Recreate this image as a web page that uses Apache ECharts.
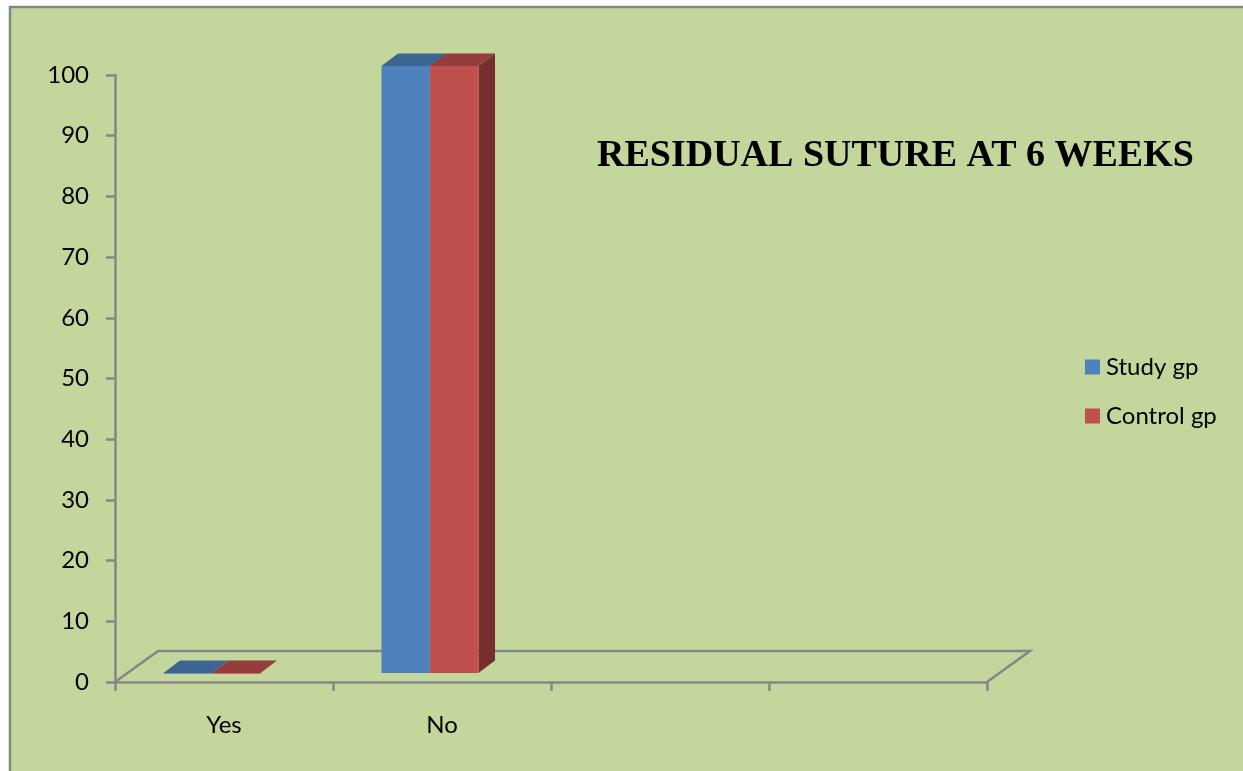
<!DOCTYPE html>
<html>
<head>
<meta charset="utf-8">
<script src="https://cdn.jsdelivr.net/npm/echarts@6/dist/echarts.min.js"></script>
<style>
  html, body { margin: 0; padding: 0; background: #ffffff; }
  #chart { width: 1243px; height: 771px; }
</style>
</head>
<body>
<div id="chart"></div>
<script>
// Categories along the floor (two empty slots keep the axis width)
const categories = ['Yes', 'No', '', ' '];
// Percentages per group
const studyGp = [0, 100];
const controlGp = [0, 100];
const seriesNames = ['Study gp', 'Control gp'];
const yTicks = { min: 0, max: 100, interval: 10 };

const FONT = 'Lato, "Open Sans", sans-serif';
const AXIS_GREY = '#868686';

// Depth vectors of the pseudo-3D look
const FLOOR_DX = 43, FLOOR_DY = -31;
const BAR_DX = 16.5, BAR_DY = -12.5;
const BAR_SHIFT_Y = -9;

// Face colours: front, top, side
const palettes = [
  { front: '#4f81bd', top: '#3d6592', side: '#34577f' },
  { front: '#c0504d', top: '#953d3a', side: '#772f2e' }
];

function barRenderer(slot, pal) {
  return function (params, api) {
    const ci = api.value(0);
    const v = api.value(1);
    const base = api.coord([ci, 0]);
    const top = api.coord([ci, v]);
    const band = api.size([1, 0])[0];
    const w = band * 0.2225;
    const pairCenter = base[0] - band * 0.055;
    const x0 = pairCenter + (slot - 1) * w;
    const yb = base[1] + BAR_SHIFT_Y;
    const yt = top[1] + BAR_SHIFT_Y;
    return {
      type: 'group',
      children: [
        {
          type: 'polygon',
          shape: { points: [[x0 + w, yt], [x0 + w + BAR_DX, yt + BAR_DY], [x0 + w + BAR_DX, yb + BAR_DY], [x0 + w, yb]] },
          style: { fill: pal.side }
        },
        {
          type: 'rect',
          shape: { x: x0, y: yt, width: w, height: Math.max(yb - yt, 0.8) },
          style: { fill: pal.front }
        },
        {
          type: 'polygon',
          shape: { points: [[x0, yt], [x0 + w, yt], [x0 + w + BAR_DX, yt + BAR_DY], [x0 + BAR_DX, yt + BAR_DY]] },
          style: { fill: pal.top }
        }
      ]
    };
  };
}

function floorRenderer(params) {
  const cs = params.coordSys;
  const xl = cs.x, xr = cs.x + cs.width, yf = cs.y + cs.height;
  return {
    type: 'polyline',
    shape: { points: [[xl, yf], [xl + FLOOR_DX, yf + FLOOR_DY], [xr + FLOOR_DX, yf + FLOOR_DY], [xr, yf]] },
    style: { stroke: AXIS_GREY, lineWidth: 2.5, fill: null }
  };
}

const chart = echarts.init(document.getElementById('chart'), null, { renderer: 'canvas' });

chart.setOption({
  backgroundColor: '#ffffff',
  animation: false,
  graphic: [{
    type: 'rect',
    z: -10,
    silent: true,
    shape: { x: 10, y: 7, width: 1300, height: 800 },
    style: { fill: '#c3d69b', stroke: AXIS_GREY, lineWidth: 2.5 }
  }],
  title: {
    text: 'RESIDUAL SUTURE AT 6 WEEKS',
    left: 597,
    top: 137,
    padding: 0,
    textStyle: {
      fontFamily: '"Liberation Serif", "DejaVu Serif", serif',
      fontWeight: 'bold',
      fontSize: 38,
      lineHeight: 38,
      color: '#000000'
    }
  },
  legend: {
    data: seriesNames,
    orient: 'vertical',
    left: 1085,
    top: 354,
    padding: 0,
    itemWidth: 15,
    itemHeight: 15,
    itemGap: 23,
    icon: 'rect',
    textStyle: { fontFamily: FONT, fontSize: 24, lineHeight: 26, color: '#000000', padding: [0, 0, 0, 1] }
  },
  grid: { left: 115, right: 256, top: 75, bottom: 89, containLabel: false },
  xAxis: {
    type: 'category',
    data: categories,
    boundaryGap: true,
    axisLine: { show: true, lineStyle: { color: AXIS_GREY, width: 2.5 } },
    axisTick: { show: true, length: 9, lineStyle: { color: AXIS_GREY, width: 2.5 } },
    axisLabel: { fontFamily: FONT, fontSize: 24, color: '#000000', margin: 31 },
    splitLine: { show: false }
  },
  yAxis: {
    type: 'value',
    min: yTicks.min,
    max: yTicks.max,
    interval: yTicks.interval,
    axisLine: { show: true, lineStyle: { color: AXIS_GREY, width: 2.5 } },
    axisTick: { show: true, length: 9, lineStyle: { color: AXIS_GREY, width: 2.5 } },
    axisLabel: { fontFamily: FONT, fontSize: 24, color: '#000000', margin: 26 },
    splitLine: { show: false }
  },
  series: [
    {
      name: 'floor',
      type: 'custom',
      silent: true,
      renderItem: floorRenderer,
      data: [[0, 0]],
      encode: { x: 0, y: 1 },
      z: 1
    },
    {
      name: seriesNames[0],
      type: 'custom',
      renderItem: barRenderer(0, palettes[0]),
      itemStyle: { color: palettes[0].front },
      data: studyGp.map((v, i) => [i, v]),
      encode: { x: 0, y: 1 },
      z: 2
    },
    {
      name: seriesNames[1],
      type: 'custom',
      renderItem: barRenderer(1, palettes[1]),
      itemStyle: { color: palettes[1].front },
      data: controlGp.map((v, i) => [i, v]),
      encode: { x: 0, y: 1 },
      z: 3
    }
  ]
});
</script>
</body>
</html>
